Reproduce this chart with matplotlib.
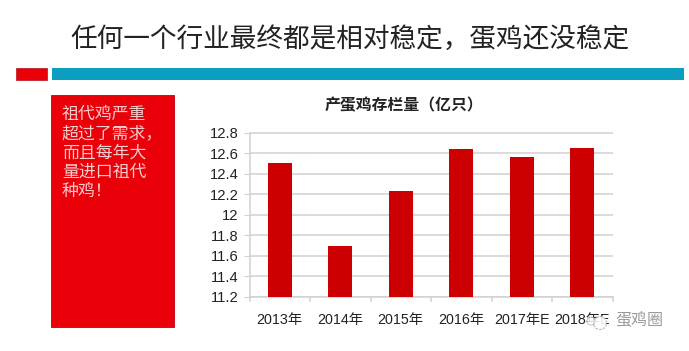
import matplotlib
matplotlib.use('Agg')
import matplotlib.pyplot as plt
from matplotlib.patches import Rectangle, Circle

plt.rcParams['font.family'] = ['Liberation Sans', 'Noto Sans CJK SC', 'DejaVu Sans']

W, H = 689, 351
title = '任何一个行业最终都是相对稳定，蛋鸡还没稳定'
chart_title = '产蛋鸡存栏量（亿只）'
note_lines = ['祖代鸡严重', '超过了需求，', '而且每年大', '量进口祖代', '种鸡！']
watermark = '蛋鸡圈'
years = ['2013年', '2014年', '2015年', '2016年', '2017年E', '2018年E']
stock = [12.5, 11.7, 12.23, 12.64, 12.56, 12.65]
yticks = [11.2, 11.4, 11.6, 11.8, 12, 12.2, 12.4, 12.6, 12.8]
ylabels = ['11.2', '11.4', '11.6', '11.8', '12', '12.2', '12.4', '12.6', '12.8']

RED = '#ea0008'
BAR = '#cc0000'
TEAL = '#0a9fc0'
GRID = '#d2d0d2'
CJK = ['Noto Sans CJK SC', 'DejaVu Sans']

fig = plt.figure(figsize=(W / 100, H / 100), dpi=100, facecolor='white')

# Pixel-coordinate overlay for the slide decorations
bg = fig.add_axes([0, 0, 1, 1])
bg.set_xlim(0, W)
bg.set_ylim(H, 0)
bg.axis('off')
bg.add_patch(Rectangle((16, 68), 31, 12, fc=RED, ec='#b01020', lw=0.5))
bg.add_patch(Rectangle((52, 68), 632, 12, fc=TEAL, ec='none'))
bg.add_patch(Rectangle((51, 95), 123, 232, fc=RED, ec='#c00010', lw=0.6))
bg.text(350, 39, title, ha='center', va='center', fontsize=19.2, color='#222222',
        family=CJK, fontweight='light')
for i, line in enumerate(note_lines):
    bg.text(62, 114 + i * 19.3, line, ha='left', va='center', fontsize=12.2, color='#f7cccc',
            family=CJK, fontweight='light')
bg.text(404, 105, chart_title, ha='center', va='center', fontsize=11.4, fontweight='bold',
        color='#222222', family=CJK)

# Chart
L, R, T, B = 249.5, 612.5, 132.5, 297
ax = fig.add_axes([L / W, 1 - B / H, (R - L) / W, (B - T) / H], facecolor='none')
x = list(range(len(years)))
ax.bar(x, stock, width=0.4, bottom=0, color=BAR, zorder=3)
ax.set_xlim(-0.5, 5.5)
ax.set_ylim(11.2, 12.8)
ax.set_yticks(yticks, ylabels, fontsize=10.6, color='#222222')
ax.set_xticks(x, years, fontsize=10.3, color='#222222')
ax.grid(axis='y', color=GRID, lw=1.1, zorder=0)
for s in ['top', 'right']:
    ax.spines[s].set_visible(False)
for s in ['left', 'bottom']:
    ax.spines[s].set_color(GRID)
    ax.spines[s].set_linewidth(1.1)
ax.tick_params(axis='y', length=4, color=GRID, pad=4)
ax.tick_params(axis='x', length=0, pad=11.5)
for edge in range(7):
    ax.plot([edge - 0.5] * 2, [11.2, 11.2 - 0.04], color=GRID, lw=1.1, clip_on=False, zorder=2)

# Watermark on top of everything
top = fig.add_axes([0, 0, 1, 1], facecolor='none')
top.set_xlim(0, W)
top.set_ylim(H, 0)
top.axis('off')
top.add_patch(Circle((600, 323), 6.5, fc='white', ec='#b5b5b5', lw=0.9, ls=(0, (2, 1)), alpha=0.9))
top.add_patch(Circle((591, 321), 4, fc='white', ec='#b5b5b5', lw=0.7, alpha=0.8))
top.text(639, 321, watermark, ha='center', va='center', fontsize=11.5, color='#9a9a9a',
         family=CJK)

fig.savefig('out.png', dpi=100)
